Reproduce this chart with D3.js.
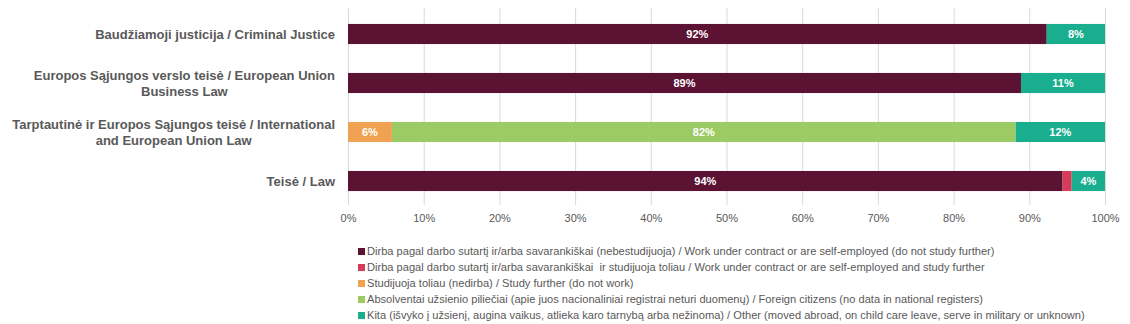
<!DOCTYPE html>
<html>
<head>
<meta charset="utf-8">
<script src="https://cdn.jsdelivr.net/npm/d3@7/dist/d3.min.js"></script>
<style>
  html, body { margin: 0; padding: 0; background: #ffffff; }
  svg { display: block; font-family: "Liberation Sans", Arial, sans-serif; }
</style>
</head>
<body>
<svg id="chart" width="1130" height="324"></svg>
<script>
// Study programmes, top to bottom; each label is split into its wrapped lines
const categories = [
  ["Baudžiamoji justicija / Criminal Justice"],
  ["Europos Sąjungos verslo teisė / European Union", "Business Law"],
  ["Tarptautinė ir Europos Sąjungos teisė / International", "and European Union Law"],
  ["Teisė / Law"]
];

// Share of graduates (%) per status, in category order
const workNoStudy = [92.3, 88.9, 0, 94.4];
const workAndStudy = [0, 0, 0, 1.2];
const studyOnly = [0, 0, 5.8, 0];
const foreignCitizens = [0, 0, 82.4, 0];
const other = [7.7, 11.1, 11.8, 4.4];

const seriesNames = [
  "Dirba pagal darbo sutartį ir/arba savarankiškai (nebestudijuoja) / Work under contract or are self-employed (do not study further)",
  "Dirba pagal darbo sutartį ir/arba savarankiškai  ir studijuoja toliau / Work under contract or are self-employed and study further",
  "Studijuoja toliau (nedirba) / Study further (do not work)",
  "Absolventai užsienio piliečiai (apie juos nacionaliniai registrai neturi duomenų) / Foreign citizens (no data in national registers)",
  "Kita (išvyko į užsienį, augina vaikus, atlieka karo tarnybą arba nežinoma) / Other (moved abroad, on child care leave, serve in military or unknown)"
];
const seriesColors = ["#5c1233", "#d63c5a", "#f0a152", "#9ccb64", "#18ae8e"];
const seriesValues = [workNoStudy, workAndStudy, studyOnly, foreignCitizens, other];

const xTicks = [0, 10, 20, 30, 40, 50, 60, 70, 80, 90, 100];

const svg = d3.select("#chart");
const textColor = "#595959";

const x = d3.scaleLinear().domain([0, 100]).range([348, 1105]);
const y = d3.scaleBand()
  .domain(d3.range(categories.length))
  .range([9.5, 205.5])
  .paddingInner(0.59)
  .paddingOuter(0.295);

// Gridlines and percentage ticks
const xAxis = d3.axisBottom(x)
  .tickValues(xTicks)
  .tickFormat(d => d + "%")
  .tickSize(-(205 - 8))
  .tickPadding(9);

const gx = svg.append("g")
  .attr("transform", "translate(0,205)")
  .call(xAxis);
gx.select(".domain").remove();
gx.selectAll(".tick line").attr("stroke", "#d9d9d9").attr("stroke-width", 1);
gx.selectAll(".tick text")
  .attr("fill", textColor)
  .attr("font-size", 11)
  .attr("font-family", "\"Liberation Sans\", Arial, sans-serif");

// Stacked segments
const rows = categories.map((c, i) => {
  let acc = 0;
  return seriesValues.map((vals, s) => {
    const v = vals[i];
    const seg = { row: i, series: s, x0: acc, x1: acc + v, value: v };
    acc += v;
    return seg;
  }).filter(d => d.value > 0);
});
const segments = rows.flat();

svg.append("g").selectAll("rect")
  .data(segments)
  .join("rect")
  .attr("x", d => x(d.x0))
  .attr("y", d => y(d.row))
  .attr("width", d => x(d.x1) - x(d.x0))
  .attr("height", y.bandwidth())
  .attr("fill", d => seriesColors[d.series]);

svg.append("g").selectAll("text")
  .data(segments.filter(d => d.value >= 2))
  .join("text")
  .attr("x", d => (x(d.x0) + x(d.x1)) / 2)
  .attr("y", d => y(d.row) + y.bandwidth() / 2)
  .attr("dy", "0.35em")
  .attr("text-anchor", "middle")
  .attr("fill", "#ffffff")
  .attr("font-weight", "bold")
  .attr("font-size", 11)
  .text(d => Math.round(d.value) + "%");

// Category labels: right-aligned block, each line centred within it
const labelRight = 335;
const lineHeight = 16;
const labelG = svg.append("g");
categories.forEach((lines, i) => {
  const cy = y(i) + y.bandwidth() / 2;
  const g = labelG.append("g");
  const texts = lines.map((line, k) => g.append("text")
    .attr("font-weight", "bold")
    .attr("font-size", 13)
    .attr("fill", textColor)
    .attr("text-anchor", "middle")
    .attr("y", cy + (k - (lines.length - 1) / 2) * lineHeight)
    .attr("dy", "0.35em")
    .text(line));
  const maxW = d3.max(texts, t => t.node().getComputedTextLength());
  texts.forEach(t => t.attr("x", labelRight - maxW / 2));
});

// Legend
const legend = svg.append("g");
seriesNames.forEach((name, s) => {
  const ly = 251.5 + s * 16;
  legend.append("rect")
    .attr("x", 358).attr("y", ly - 3.5)
    .attr("width", 7).attr("height", 7)
    .attr("fill", seriesColors[s]);
  legend.append("text")
    .attr("x", 367).attr("y", ly)
    .attr("dy", "0.35em")
    .attr("font-size", 11.1)
    .attr("fill", textColor)
    .attr("xml:space", "preserve")
    .style("white-space", "pre")
    .text(name);
});
</script>
</body>
</html>
